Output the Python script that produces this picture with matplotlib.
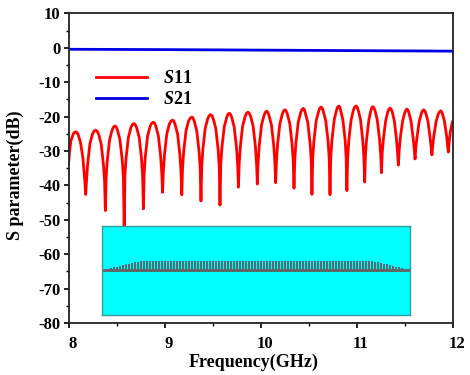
import matplotlib
matplotlib.use('Agg')
import matplotlib.pyplot as plt
from matplotlib.ticker import MultipleLocator
from matplotlib.transforms import ScaledTranslation

plt.rcParams['font.family'] = ['Liberation Serif', 'DejaVu Serif']
plt.rcParams['font.weight'] = 'bold'
plt.rcParams['mathtext.fontset'] = 'custom'
plt.rcParams['mathtext.it'] = 'Liberation Serif:italic:bold'
plt.rcParams['mathtext.bf'] = 'Liberation Serif:bold'
plt.rcParams['mathtext.rm'] = 'Liberation Serif:bold'

freq_s11 = [
    8.00, 8.01, 8.025, 8.05, 8.0625, 8.075, 8.0875, 8.10, 8.125, 8.15, 8.168, 8.179,
    8.187, 8.199, 8.223, 8.249, 8.266, 8.283, 8.298, 8.314, 8.340, 8.364, 8.376, 8.384,
    8.392, 8.404, 8.428, 8.454, 8.469, 8.484, 8.497, 8.510, 8.536, 8.560, 8.572, 8.58,
    8.588, 8.600, 8.624, 8.650, 8.665, 8.68, 8.695, 8.71, 8.736, 8.76, 8.772, 8.78,
    8.788, 8.80, 8.824, 8.85, 8.867, 8.884, 8.897, 8.91, 8.936, 8.96, 8.972, 8.98,
    8.988, 9.0, 9.024, 9.05, 9.067, 9.085, 9.097, 9.11, 9.136, 9.16, 9.172, 9.18,
    9.188, 9.2, 9.224, 9.25, 9.268, 9.286, 9.298, 9.31, 9.336, 9.36, 9.372, 9.38,
    9.388, 9.4, 9.424, 9.45, 9.465, 9.48, 9.494, 9.508, 9.534, 9.558, 9.57, 9.578,
    9.586, 9.598, 9.622, 9.648, 9.661, 9.675, 9.687, 9.70, 9.726, 9.75, 9.762, 9.77,
    9.778, 9.79, 9.814, 9.84, 9.855, 9.87, 9.883, 9.897, 9.923, 9.947, 9.959, 9.967,
    9.975, 9.987, 10.011, 10.037, 10.051, 10.065, 10.076, 10.088, 10.114, 10.138, 10.15, 10.158,
    10.166, 10.178, 10.202, 10.228, 10.241, 10.255, 10.267, 10.279, 10.305, 10.329, 10.341, 10.349,
    10.357, 10.369, 10.393, 10.419, 10.432, 10.446, 10.456, 10.466, 10.492, 10.516, 10.528, 10.536,
    10.544, 10.556, 10.58, 10.606, 10.618, 10.63, 10.642, 10.654, 10.68, 10.704, 10.716, 10.724,
    10.732, 10.744, 10.768, 10.792, 10.804, 10.816, 10.825, 10.834, 10.858, 10.882, 10.892, 10.90,
    10.908, 10.92, 10.944, 10.968, 10.981, 10.995, 11.006, 11.018, 11.042, 11.065, 11.077, 11.085,
    11.093, 11.105, 11.129, 11.15, 11.16, 11.17, 11.181, 11.193, 11.216, 11.24, 11.252, 11.26,
    11.268, 11.28, 11.304, 11.326, 11.338, 11.35, 11.361, 11.372, 11.394, 11.416, 11.428, 11.436,
    11.444, 11.456, 11.48, 11.502, 11.514, 11.526, 11.536, 11.546, 11.568, 11.59, 11.602, 11.61,
    11.618, 11.63, 11.654, 11.676, 11.688, 11.70, 11.711, 11.722, 11.744, 11.766, 11.778, 11.786,
    11.794, 11.806, 11.83, 11.852, 11.865, 11.878, 11.887, 11.896, 11.916, 11.938, 11.949, 11.957,
    11.965, 11.977, 11.99, 12.0,
]
s11 = [
    -34, -30.5, -27, -25, -24.55, -24.4, -24.6, -25.2, -27.5, -32, -38, -42.6,
    -38.9, -33.9, -27.9, -25.1, -24.2, -23.9, -24.2, -25.1, -27.9, -33.9, -38.9, -47.3,
    -37.7, -32.7, -26.7, -23.9, -23, -22.7, -23, -23.9, -26.7, -32.7, -37.7, -53,
    -37, -32, -26, -23.2, -22.3, -22, -22.3, -23.2, -26, -32, -37, -46.8,
    -36.6, -31.6, -25.6, -22.8, -21.9, -21.6, -21.9, -22.8, -25.6, -31.6, -36.6, -42,
    -36, -31, -25, -22.2, -21.3, -21, -21.3, -22.2, -25, -31, -36, -42.7,
    -35.1, -30.1, -24.1, -21.3, -20.4, -20.1, -20.4, -21.3, -24.1, -30.1, -35.1, -44.5,
    -34.4, -29.4, -23.4, -20.6, -19.7, -19.4, -19.7, -20.6, -23.4, -29.4, -34.4, -45.7,
    -34, -29, -23, -20.2, -19.3, -19, -19.3, -20.2, -23, -29, -34, -40.5,
    -33.7, -28.7, -22.7, -19.9, -19, -18.7, -19, -19.9, -22.7, -28.7, -33.7, -39.6,
    -33.4, -28.4, -22.4, -19.6, -18.7, -18.4, -18.7, -19.6, -22.4, -28.4, -33.4, -39.2,
    -33, -28, -22, -19.2, -18.3, -18, -18.3, -19.2, -22, -28, -33, -40.8,
    -32.6, -27.6, -21.6, -18.8, -17.9, -17.6, -17.9, -18.8, -21.6, -27.6, -32.6, -42.6,
    -32.2, -27.2, -21.2, -18.4, -17.5, -17.2, -17.5, -18.4, -21.2, -27.2, -32.2, -42.7,
    -31.9, -26.9, -20.9, -18.1, -17.2, -16.9, -17.2, -18.1, -20.9, -26.9, -31.9, -41.5,
    -31.9, -26.9, -20.9, -18.1, -17.2, -16.9, -17.2, -18.1, -20.9, -26.9, -31.9, -39,
    -31, -26.6, -20.9, -18.2, -17.4, -17.1, -17.4, -18.2, -20.9, -26.6, -31, -36.3,
    -30.5, -26.5, -21.2, -18.6, -17.8, -17.5, -17.8, -18.6, -21.2, -26.5, -30.5, -34.1,
    -30, -26.3, -21.3, -18.9, -18.1, -17.8, -18.1, -18.9, -21.3, -26.3, -29.5, -32.3,
    -29, -26, -21.3, -19, -18.3, -18, -18.3, -19, -21.3, -26, -29, -31.1,
    -28.5, -25.5, -21.3, -19.2, -18.6, -18.3, -18.6, -19.2, -21.3, -25.5, -28.5, -30.3,
    -27.5, -24.5, -22.6, -21.5,
]
freq_s21 = [8, 9, 10, 11, 12]
s21 = [-0.4, -0.5, -0.65, -0.8, -0.95]

x_ticks = [8, 9, 10, 11, 12]
y_ticks = [10, 0, -10, -20, -30, -40, -50, -60, -70, -80]
y_tick_labels = ['10', '0', '-10', '-20', '-30', '-40', '-50', '-60', '-70', '-80']

# inset sketch: tooth heights along the transmission line
tooth_ramp_in = [1, 1.5, 2, 3, 3.5, 4.5, 5, 6, 6.5, 7]
tooth_flat_count = 78
tooth_ramp_out = [7, 6.5, 6, 5, 4.5, 3.5, 3, 2, 1.5, 1]
tooth_heights = tooth_ramp_in + [7.5] * tooth_flat_count + tooth_ramp_out

W, H = 470, 375
fig = plt.figure(figsize=(W / 100, H / 100), dpi=100, facecolor='white')
L, R, T, B = 68.5, 452.5, 13.5, 323
ax = fig.add_axes([L / W, 1 - B / H, (R - L) / W, (B - T) / H])

ax.plot(freq_s11, s11, color='#ff0000', lw=2.0, label=r'$\mathit{S}$11', solid_joinstyle='round')
ax.plot(freq_s21, s21, color='#0000e6', lw=2.0, label=r'$\mathit{S}$21')

ax.set_xlim(8, 12)
ax.set_ylim(-80, 10)
ax.set_xticks(x_ticks)
ax.set_yticks(y_ticks)
ax.set_yticklabels(y_tick_labels)
ax.xaxis.set_minor_locator(MultipleLocator(0.5))
ax.yaxis.set_minor_locator(MultipleLocator(5))
ax.tick_params(axis='both', which='major', length=3.6, width=1.2, labelsize=12, pad=2)
ax.tick_params(axis='x', which='major', pad=6)
ax.tick_params(axis='both', which='minor', length=2.2, width=1.0)
shift = ScaledTranslation(4.5 / 100, 0, fig.dpi_scale_trans)
for lab in ax.get_xticklabels():
    lab.set_transform(lab.get_transform() + shift)
for s in ax.spines.values():
    s.set_linewidth(1.3)
    s.set_color('#222222')

fig.text(254 / W, 1 - 362 / H, 'Frequency(GHz)', fontsize=13, fontweight='bold',
         ha='center', va='center')
fig.text(15 / W, 1 - 175 / H, 'S parameter(dB)', fontsize=13, fontweight='bold',
         rotation=90, ha='center', va='center')

leg = ax.legend(loc='upper left', bbox_to_anchor=(0.071, 0.816), frameon=False,
                fontsize=13, handlelength=2.86, handletextpad=0.85, labelspacing=0.2,
                borderpad=0, borderaxespad=0)

# inset
iL, iR, iT, iB = 102, 410, 226, 314.5
iax = fig.add_axes([iL / W, 1 - iB / H, (iR - iL) / W, (iB - iT) / H], facecolor='#00ffff')
iax.set_xlim(0, 102.67)
iax.set_ylim(-44, 44)
iax.set_xticks([])
iax.set_yticks([])
for s in iax.spines.values():
    s.set_color('#3a9a9a')
    s.set_linewidth(1.0)
iax.axhspan(-1.6, 1.6, color='#5f6a6a', lw=0)
iax.bar([i + 3 for i in range(len(tooth_heights))], tooth_heights, width=0.72,
        bottom=1.6, color='#4f6f72', lw=0)

fig.savefig('out.png', dpi=100)
